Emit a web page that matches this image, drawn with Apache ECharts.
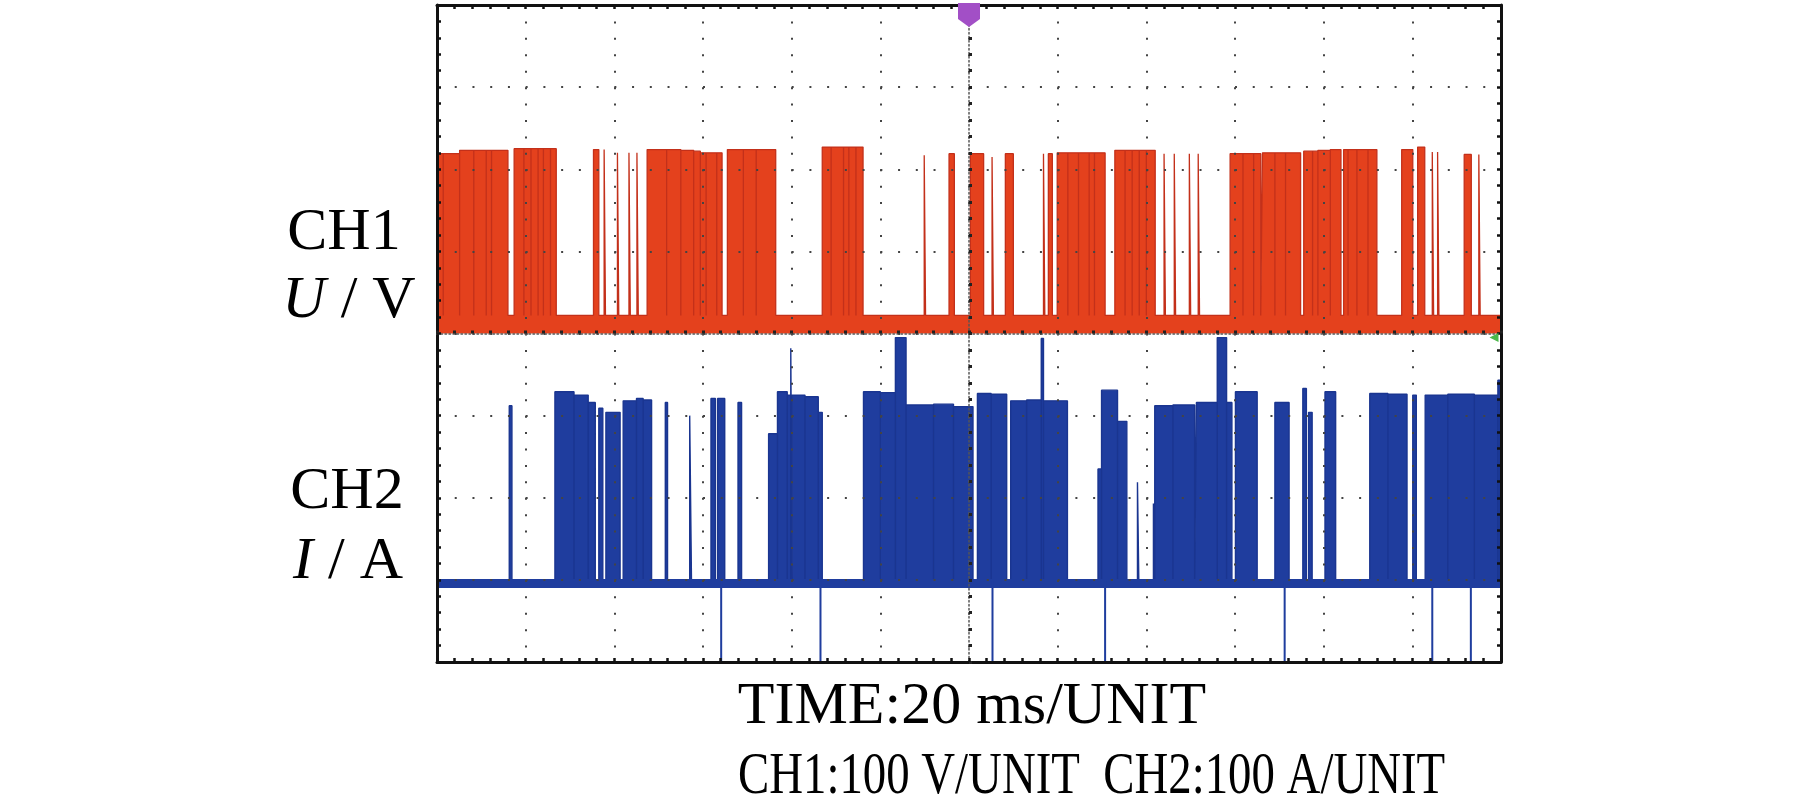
<!DOCTYPE html>
<html><head><meta charset="utf-8">
<script src="https://cdn.jsdelivr.net/npm/echarts@6/dist/echarts.min.js"></script>
<style>html,body{margin:0;padding:0;background:#fff;} #c{width:1819px;height:809px;}</style>
</head><body><div id="c"></div>
<script>
// Time axis (ms, relative to trigger) and vertical divisions
const timeRangeMs = [-120, 120];
const timeStepMs = 20;
const divRange = [-4, 4];
const divStep = 1;

// CH1 voltage (divisions, 100 V/div): [start ms, end ms, level]
const ch1Low = 0.22;
const ch1Ground = 0;
const ch1Pulses = [
  [-120.0, -118.6, 2.19], [-118.6, -114.9, 2.19], [-114.9, -111.7, 2.23],
  [-111.7, -108.9, 2.23], [-108.9, -107.7, 2.23], [-107.7, -104.0, 2.23],
  [-102.6, -100.4, 2.25], [-100.4, -98.8, 2.25], [-98.8, -97.2, 2.25],
  [-97.2, -96.0, 2.25], [-96.0, -94.4, 2.25], [-94.4, -93.1, 2.25],
  [-84.7, -83.5, 2.24], [-82.3, -82.0, 2.24], [-79.3, -79.0, 2.20],
  [-76.7, -76.4, 2.20], [-74.9, -74.6, 2.20],
  [-72.6, -68.2, 2.24], [-68.2, -65.0, 2.24], [-65.0, -62.1, 2.23],
  [-62.1, -60.6, 2.22], [-60.6, -59.3, 2.20], [-59.3, -56.9, 2.20],
  [-56.9, -55.7, 2.20], [-54.5, -50.9, 2.24], [-50.9, -48.0, 2.24],
  [-48.0, -43.6, 2.24],
  [-33.1, -31.1, 2.27], [-31.1, -28.3, 2.27], [-28.3, -27.1, 2.27],
  [-27.1, -25.5, 2.27], [-25.5, -23.9, 2.27],
  [-10.1, -9.8, 2.17], [-4.5, -3.3, 2.19], [0.3, 3.3, 2.19],
  [5.2, 5.5, 2.15], [8.2, 10.0, 2.19], [16.8, 17.1, 2.19],
  [17.9, 18.8, 2.19],
  [19.9, 22.3, 2.20], [22.3, 24.7, 2.20], [24.7, 27.1, 2.20],
  [27.1, 28.3, 2.20], [28.3, 30.7, 2.20],
  [32.9, 35.2, 2.23], [35.2, 36.8, 2.23], [36.8, 38.4, 2.23],
  [38.4, 40.0, 2.23], [40.0, 42.0, 2.23],
  [44.0, 44.3, 2.19], [46.3, 46.6, 2.19], [49.7, 50.0, 2.19],
  [51.7, 52.0, 2.19],
  [58.9, 61.8, 2.19], [61.8, 64.2, 2.19], [64.2, 65.8, 2.19],
  [66.2, 69.0, 2.20], [69.0, 71.4, 2.20], [71.4, 74.8, 2.20],
  [75.5, 77.5, 2.22], [77.5, 78.7, 2.22], [78.7, 81.5, 2.23],
  [81.5, 83.9, 2.24], [84.5, 85.5, 2.24], [85.5, 87.5, 2.24],
  [87.5, 90.0, 2.24], [90.0, 92.0, 2.24],
  [97.6, 100.1, 2.24], [101.2, 102.8, 2.27], [104.5, 104.8, 2.21],
  [105.7, 106.0, 2.21], [111.7, 113.3, 2.18], [115.0, 115.3, 2.18]
];

// CH2 current (divisions, 100 A/div): [start ms, end ms, level]
const ch2Low = -3.0;
const ch2BandBottom = -3.1;
const ch2Pulses = [
  [-103.7, -103.1, -0.88], [-93.4, -89.1, -0.71], [-89.1, -85.9, -0.75],
  [-85.9, -84.3, -0.84], [-83.5, -82.6, -0.91], [-81.9, -78.7, -0.96],
  [-78.0, -75.0, -0.82], [-75.0, -73.5, -0.79], [-73.5, -71.6, -0.81],
  [-68.5, -68.0, -0.84], [-63.0, -62.6, -1.00], [-58.2, -57.2, -0.79],
  [-56.7, -55.1, -0.79], [-52.1, -51.3, -0.84], [-45.2, -43.2, -1.22],
  [-43.2, -41.0, -0.71], [-41.0, -40.2, -0.75], [-40.2, -39.9, -0.18],
  [-39.9, -37.0, -0.75], [-37.0, -34.0, -0.77], [-34.0, -33.1, -0.96],
  [-23.8, -20.0, -0.71], [-20.0, -16.6, -0.72],
  [-16.6, -14.2, -0.05], [-14.2, -8.0, -0.87], [-8.0, -3.5, -0.86],
  [-3.5, 0.9, -0.89], [1.9, 5.0, -0.73], [5.0, 8.5, -0.74],
  [9.4, 13.0, -0.82], [13.0, 16.3, -0.81], [16.3, 16.8, -0.06],
  [16.8, 22.2, -0.82],
  [29.1, 29.9, -1.65], [29.9, 33.5, -0.69], [33.5, 35.6, -1.07],
  [38.0, 38.3, -1.81], [41.6, 41.9, -2.07], [41.9, 46.0, -0.88],
  [46.0, 50.9, -0.87], [51.3, 56.0, -0.84], [56.0, 58.1, -0.05],
  [58.1, 59.3, -0.84], [60.1, 65.0, -0.71], [69.0, 72.2, -0.84],
  [75.3, 76.1, -0.67], [76.6, 77.4, -0.96], [80.3, 82.7, -0.71],
  [90.4, 94.5, -0.73], [94.5, 98.8, -0.74], [100.1, 100.9, -0.75],
  [102.9, 108.0, -0.75], [108.0, 114.0, -0.74], [114.0, 119.3, -0.75],
  [119.3, 119.8, -0.57]
];
const ch2DipLevel = -4;
const ch2Dips = [-55.9, -33.5, 5.3, 30.7, 71.2, 104.5, 113.2];

// Texts
const ch1Label = ['CH1', 'U', 'V'];
const ch2Label = ['CH2', 'I', 'A'];
const footerLines = ['TIME:20 ms/UNIT', 'CH1:100 V/UNIT  CH2:100 A/UNIT'];

const RED = '#e4411d';
const RED_EDGE = '#c3301a';
const BLUE = '#1f3d9e';
const BLUE_EDGE = '#1a3590';
const FONT = '"Liberation Serif", "Times New Roman", serif';

function pulsesToPath(pulses, low) {
  const out = [[timeRangeMs[0], low]];
  for (const [a, b, v] of pulses) {
    out.push([a, low], [a, v], [b, v], [b, low]);
  }
  out.push([timeRangeMs[1], low]);
  return out;
}
function dipsToPath(ts, low, level) {
  const out = [[timeRangeMs[0], low]];
  for (const t of ts) out.push([t, low], [t, level], [t, low]);
  out.push([timeRangeMs[1], low]);
  return out;
}

const hDot = [2, 1064 / 60 - 2];
const vDot = [2, 657 / 40 - 2];

function borderAxis(pos, withSplit, dash) {
  return {
    type: 'value', position: pos, z: 4,
    axisLine: { show: true, onZero: false, lineStyle: { color: '#111', width: 3 } },
    axisTick: { show: true, inside: true, length: 4, lineStyle: { color: '#111', width: 2.5 } },
    minorTick: { show: true, splitNumber: 5, length: 4, lineStyle: { color: '#111', width: 2.5 } },
    axisLabel: { show: false },
    splitLine: { show: withSplit, lineStyle: { color: '#444', width: 2, type: dash } },
    minorSplitLine: { show: false }
  };
}
function centerAxis(pos) {
  return {
    type: 'value', position: pos, z: 4,
    axisLine: { show: true, onZero: true, onZeroAxisIndex: 0, lineStyle: { color: '#555', width: 1.5, type: [1.5, 2.5] } },
    axisTick: { show: true, inside: true, length: 3, lineStyle: { color: '#222', width: 3 } },
    minorTick: { show: true, splitNumber: 5, length: 3, lineStyle: { color: '#222', width: 3 } },
    axisLabel: { show: false },
    splitLine: { show: false }, minorSplitLine: { show: false }
  };
}

const xAxes = [borderAxis('bottom', true, vDot), borderAxis('top', false, vDot), centerAxis('bottom')]
  .map(a => Object.assign(a, { min: timeRangeMs[0], max: timeRangeMs[1], interval: timeStepMs }));
const yAxes = [borderAxis('left', true, hDot), borderAxis('right', false, hDot), centerAxis('left')]
  .map(a => Object.assign(a, { min: divRange[0], max: divRange[1], interval: divStep }));

const labelStyle = (text, extra) => Object.assign({
  text, fontSize: 60, fontFamily: FONT, fill: '#000', align: 'center', verticalAlign: 'middle',
  rich: { i: { fontStyle: 'italic', fontSize: 60, fontFamily: FONT, fill: '#000' } }
}, extra || {});

const chart = echarts.init(document.getElementById('c'), null, { renderer: 'canvas' });
chart.setOption({
  animation: false,
  backgroundColor: '#fff',
  grid: { left: 437, top: 5, width: 1064, height: 657, show: false },
  xAxis: xAxes,
  yAxis: yAxes,
  series: [
    {
      name: 'CH1', type: 'line', xAxisIndex: 0, yAxisIndex: 0, z: 2,
      data: pulsesToPath(ch1Pulses, ch1Low), symbol: 'none', showSymbol: false,
      lineStyle: { color: RED_EDGE, width: 1.3 },
      areaStyle: { color: RED, opacity: 1, origin: ch1Ground },
      markPoint: {
        silent: true, label: { show: false },
        data: [
          { coord: [0, divRange[1]], symbol: 'path://M0 0 H22 V16 L11 24 L0 16 Z', symbolSize: [22, 24], symbolOffset: [0, 10], itemStyle: { color: '#a24fc6' } },
          { coord: [timeRangeMs[1], ch1Ground], symbol: 'path://M10 0 L10 10 L0 5 Z', symbolSize: [9, 9], symbolOffset: [-7, 4], itemStyle: { color: '#4cb84a' } }
        ]
      }
    },
    {
      name: 'CH2', type: 'line', xAxisIndex: 0, yAxisIndex: 0, z: 2,
      data: pulsesToPath(ch2Pulses, ch2Low), symbol: 'none', showSymbol: false,
      lineStyle: { color: BLUE_EDGE, width: 1.4 },
      areaStyle: { color: BLUE, opacity: 1, origin: ch2BandBottom }
    },
    {
      name: 'CH2 dips', type: 'line', xAxisIndex: 0, yAxisIndex: 0, z: 2,
      data: dipsToPath(ch2Dips, ch2Low, ch2DipLevel), symbol: 'none', showSymbol: false,
      lineStyle: { color: BLUE, width: 2 }
    }
  ],
  graphic: [
    { type: 'text', x: 344, y: 233, style: labelStyle(ch1Label[0]) },
    { type: 'text', x: 349, y: 301, style: labelStyle('{i|' + ch1Label[1] + '} / ' + ch1Label[2]) },
    { type: 'text', x: 347, y: 492, style: labelStyle(ch2Label[0]) },
    { type: 'text', x: 348, y: 562, style: labelStyle('{i|' + ch2Label[1] + '} / ' + ch2Label[2]) },
    { type: 'text', x: 972, y: 707, style: labelStyle(footerLines[0]) },
    { type: 'text', x: 738, y: 777, scaleX: 0.78, style: labelStyle(footerLines[1], { align: 'left' }) }
  ]
});
</script></body></html>
